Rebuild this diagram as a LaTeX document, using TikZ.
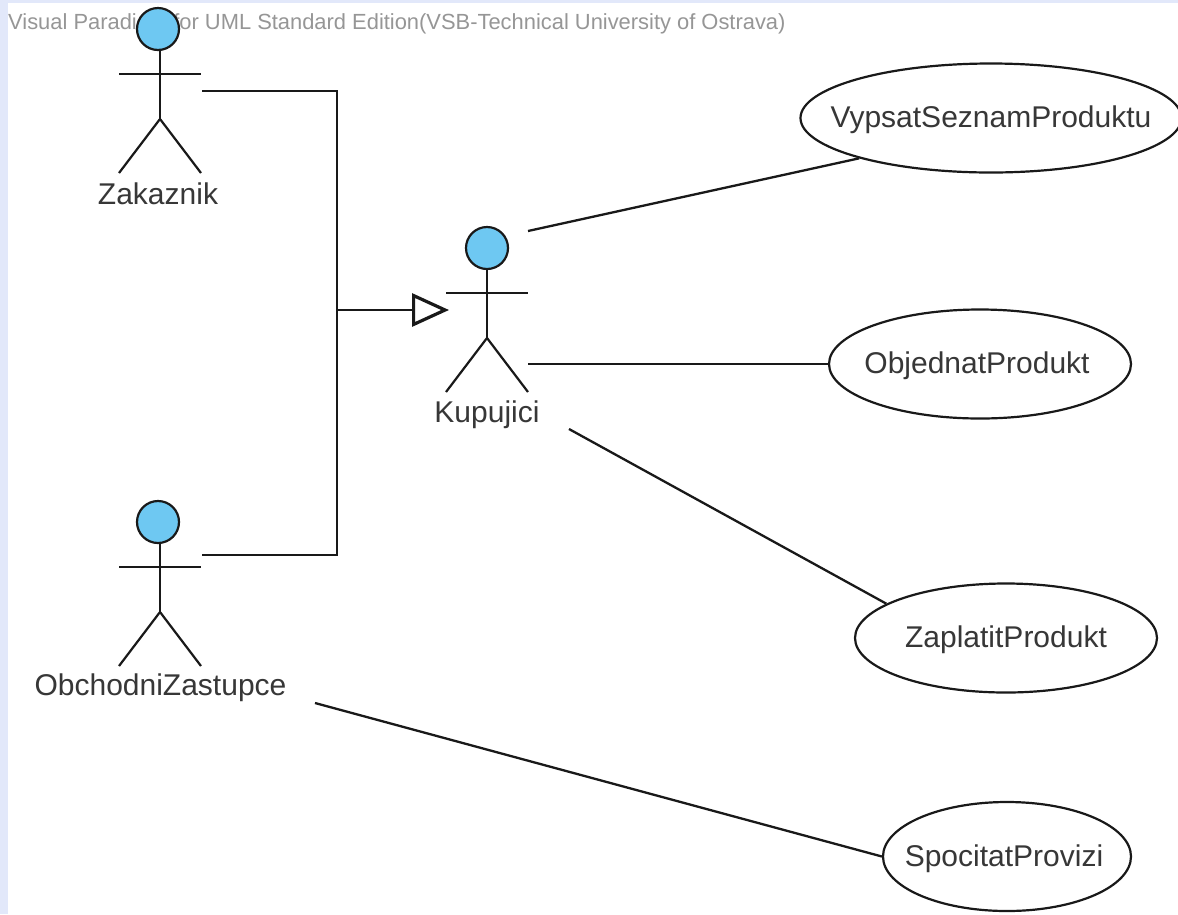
\documentclass[tikz,border=0pt]{standalone}
\usepackage{fontspec}
\setmainfont{Liberation Sans}
\usetikzlibrary{arrows.meta,shapes.geometric}
\definecolor{pagebg}{RGB}{226,232,250}
\definecolor{headblue}{RGB}{110,200,242}
\definecolor{linecol}{RGB}{25,25,25}
\definecolor{textcol}{RGB}{55,55,55}
\definecolor{wm}{RGB}{150,150,150}
\tikzset{
  x=1pt,y=-1pt,
  conn/.style={draw=linecol,line width=2.3pt},
  limb/.style={draw=linecol,line width=2.2pt},
  head/.style={circle,draw=linecol,line width=2.2pt,fill=headblue,minimum size=42pt,inner sep=0pt},
  usecase/.style={ellipse,draw=linecol,line width=2.2pt,fill=white,minimum width=#1,minimum height=109pt,inner xsep=-40pt,inner ysep=0pt,text height=19pt,text depth=0pt,text=textcol,font=\fontsize{30}{32}\selectfont},
  lbl/.style={anchor=base,text=textcol,inner sep=0pt,font=\fontsize{30}{32}\selectfont},
  genarrow/.style={-{Triangle[open,length=37pt,width=33pt,line width=3.2pt]}}
}
\newcommand{\actor}[3]{% name, x, head centre y
  \coordinate (#1-neck) at (#2,#3+21);
  \coordinate (#1-hip) at (#2,#3+90);
  \draw[limb] (#1-neck) -- (#1-hip);
  \draw[limb] (#2-41,#3+45) -- (#2+41,#3+45);
  \draw[limb] (#2-41,#3+144) -- (#1-hip) -- (#2+41,#3+144);
}
\begin{document}
\begin{tikzpicture}
\useasboundingbox (0,0) rectangle (1178,914);
\fill[pagebg] (0,0) rectangle (1178,914);
\fill[white] (8,3) rectangle (1178,914);
\node[anchor=west,text=wm,inner sep=0pt,font=\fontsize{21.9}{24}\selectfont] (wmark) at (8,24) {Visual Paradigm for UML Standard Edition(VSB-Technical University of Ostrava)};

\actor{zak}{160}{29}
\node[head] (zakhead) at (158,29) {};
\node[lbl] (zaklabel) at (158,204) {Zakaznik};

\actor{obch}{160}{522}
\node[head] (obchhead) at (158,522) {};
\node[lbl] (obchlabel) at (160.5,695) {ObchodniZastupce};

\actor{kup}{487}{248}
\node[head] (kuphead) at (487,248) {};
\node[lbl] (kuplabel) at (487,422) {Kupujici};

\node[usecase=381pt] (uc1) at (991,118) {VypsatSeznamProduktu};
\node[usecase=302pt] (uc2) at (980,364) {\hspace*{-6pt}ObjednatProdukt};
\node[usecase=302pt] (uc3) at (1006,638) {ZaplatitProdukt};
\node[usecase=248pt] (uc4) at (1007,856.5) {\hspace*{-6pt}SpocitatProvizi};

\coordinate (zakout) at (202,91);
\coordinate (obchout) at (202,555);
\coordinate (junction) at (337,310);
\coordinate (kuparrow) at (449,310);
\coordinate (kupa) at (528,231);
\coordinate (kupb) at (528,364);
\coordinate (kupc) at (569,429);
\coordinate (obchc) at (315,703);

\draw[conn] (zakout) -| (junction);
\draw[conn] (obchout) -| (junction);
\draw[conn,genarrow] (junction) -- (kuparrow);
\draw[conn] (kupa) -- (uc1.197);
\draw[conn] (kupb) -- (uc2.west);
\draw[conn] (kupc) -- (uc3.164);
\draw[conn] (obchc) -- (uc4.west);
\end{tikzpicture}
\end{document}
